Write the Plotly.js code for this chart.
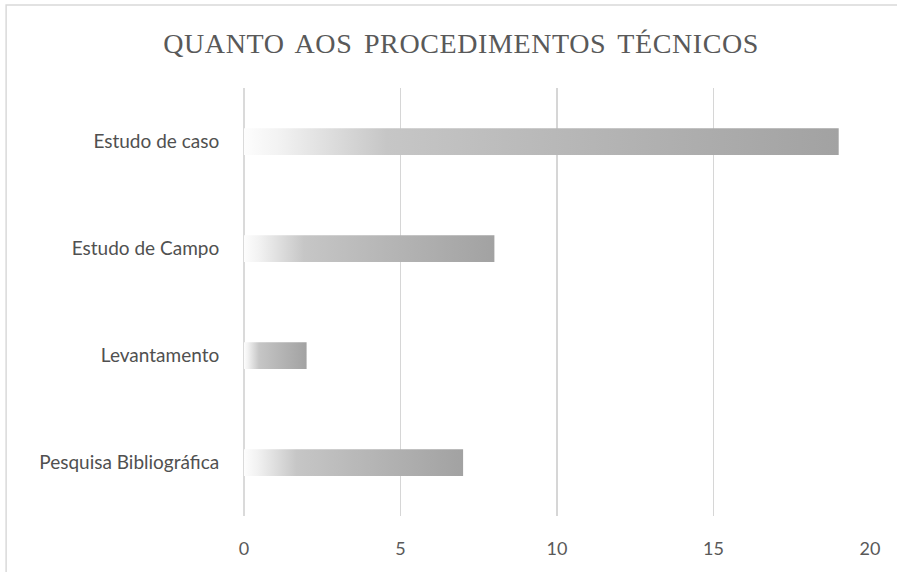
<!DOCTYPE html>
<html><head><meta charset="utf-8">
<script src="https://cdn.plot.ly/plotly-3.0.1.min.js"></script>
<style>html,body{margin:0;padding:0;background:#fff;}#chart{width:897px;height:572px;}
.gtitle{letter-spacing:0.6px;word-spacing:4px;}</style>
</head><body><div id="chart"></div>
<script>
const categories = ["Estudo de caso", "Estudo de Campo", "Levantamento", "Pesquisa Bibliográfica"];
const values = [19, 8, 2, 7];
const xTicks = [0, 5, 10, 15, 20];
const titleText = "QUANTO AOS PROCEDIMENTOS TÉCNICOS";

const trace = {
  type: 'bar', orientation: 'h',
  y: categories, x: values,
  width: 0.25,
  marker: {color: '#b4b4b4', line: {width: 0}},
  hoverinfo: 'x+y'
};
const layout = {
  width: 897, height: 572,
  margin: {l: 244, r: 27, t: 88, b: 56},
  paper_bgcolor: '#ffffff', plot_bgcolor: '#ffffff',
  showlegend: false,
  title: {text: titleText, x: 0.514, xanchor: 'center', y: 0.925, yanchor: 'middle',
          font: {family: 'Liberation Serif, serif', size: 28, color: '#595959'}},
  xaxis: {range: [0, 20], tickvals: xTicks, ticktext: xTicks.map(String),
          showgrid: true, gridcolor: '#d6d6d6', gridwidth: 1.8,
          zeroline: true, zerolinecolor: '#dadada', zerolinewidth: 1.8,
          showline: false, ticks: 'outside', ticklen: 16, tickcolor: 'rgba(0,0,0,0)', fixedrange: true,
          tickfont: {family: 'Lato, sans-serif', size: 18, color: '#595959'}},
  yaxis: {type: 'category', autorange: 'reversed', showgrid: false, zeroline: false,
          showline: false, ticks: 'outside', ticklen: 20, tickcolor: 'rgba(0,0,0,0)',
          tickfont: {family: 'Lato, sans-serif', size: 19, color: '#505050'}},
  shapes: [{type: 'rect', xref: 'paper', yref: 'paper', x0: -0.38, x1: 1.2, y0: -0.3, y1: 1.194,
            line: {color: '#d9d9d9', width: 1.5}, fillcolor: 'rgba(0,0,0,0)', layer: 'below'}]
};
Plotly.newPlot('chart', [trace], layout, {displayModeBar: false, staticPlot: true}).then(gd => {
  const svg = gd.querySelector('svg.main-svg');
  const ns = 'http://www.w3.org/2000/svg';
  let defs = svg.querySelector('defs');
  if (!defs) { defs = document.createElementNS(ns, 'defs'); svg.insertBefore(defs, svg.firstChild); }
  const g = document.createElementNS(ns, 'linearGradient');
  g.setAttribute('id', 'barGrad');
  g.setAttribute('x1', '0'); g.setAttribute('y1', '0'); g.setAttribute('x2', '1'); g.setAttribute('y2', '0');
  [[0, '#fdfdfd'], [0.06, '#f2f2f2'], [0.24, '#c6c6c6'], [0.5, '#b9b9b9'], [1, '#a2a2a2']].forEach(([o, c]) => {
    const s = document.createElementNS(ns, 'stop');
    s.setAttribute('offset', o); s.setAttribute('stop-color', c); g.appendChild(s);
  });
  defs.appendChild(g);
  gd.querySelectorAll('.bars .point path').forEach(p => { p.style.fill = 'url(#barGrad)'; p.style.fillOpacity = 1; });
});
</script></body></html>
